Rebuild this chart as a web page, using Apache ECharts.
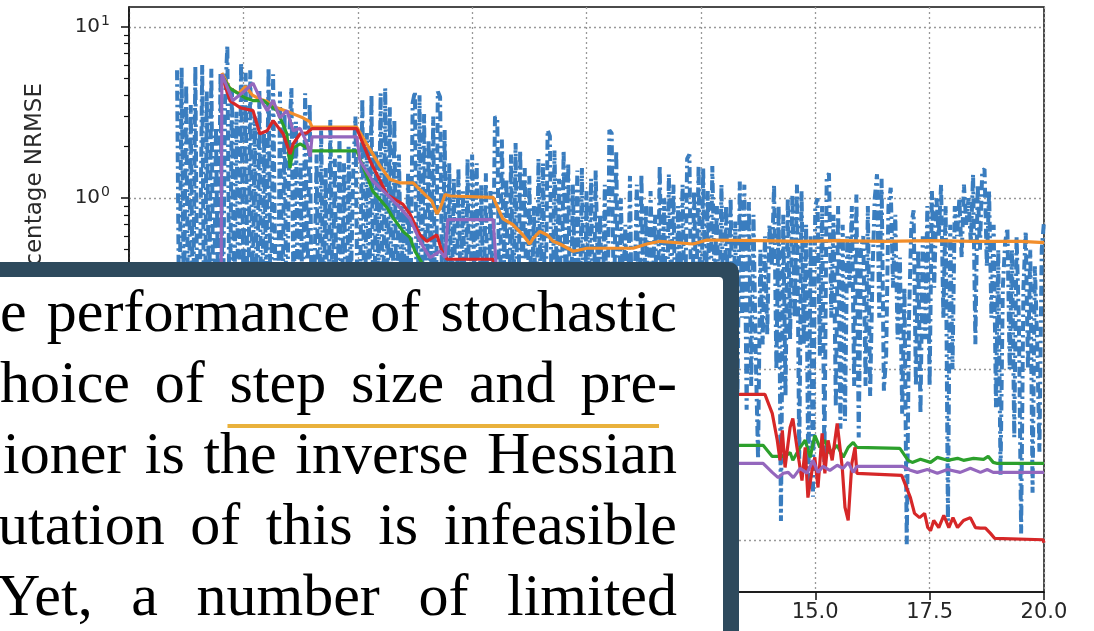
<!DOCTYPE html>
<html>
<head>
<meta charset="utf-8">
<script src="https://cdn.jsdelivr.net/npm/echarts@6/dist/echarts.min.js"></script>
<style>
html, body { margin: 0; padding: 0; background: #fff; }
#main { width: 1094px; height: 631px; }
</style>
</head>
<body>
<div id="main"></div>
<script>
// axis ticks
var xTicks = [0, 2.5, 5, 7.5, 10, 12.5, 15, 17.5, 20];
var yMajor = [0.01, 0.1, 1, 10];
var yMinor = [0.006, 0.007, 0.008, 0.009,
    0.02, 0.03, 0.04, 0.05, 0.06, 0.07, 0.08, 0.09,
    0.2, 0.3, 0.4, 0.5, 0.6, 0.7, 0.8, 0.9,
    2, 3, 4, 5, 6, 7, 8, 9];

// blue (dash-dot) series, one value every 0.05 starting at x = 1.05
var blueStart = 1.05, blueStep = 0.05;
var blueVals = [
    5.6, 0.12, 5.8, 0.2, 4.6, 0.09, 3.5, 0.15, 5.9, 0.1,
    0.3, 6.0, 0.08, 4.2, 0.18, 5.7, 0.1, 2.6, 0.25, 5.4,
    0.15, 3.8, 7.8, 0.12, 4.4, 0.2, 3.2, 0.09, 6.2, 0.3,
    5.4, 0.1, 5.6, 0.22, 3.0, 0.14, 4.3, 0.08, 2.4, 0.3,
    5.8, 0.12, 5.3, 0.3, 0.07, 4.2, 0.16, 3.1, 0.1, 2.2,
    4.4, 0.2, 2.8, 0.09, 1.6, 0.14, 4.1, 0.25, 3.6, 0.11,
    0.3, 1.8, 0.1, 2.6, 0.18, 1.5, 0.07, 2.9, 0.22, 1.7,
    0.12, 2.3, 0.2, 1.6, 0.09, 2.0, 0.3, 1.4, 3.0, 0.15,
    0.25, 3.8, 0.1, 2.4, 0.18, 4.0, 0.08, 1.9, 0.3, 4.1,
    0.12, 4.4, 0.2, 3.4, 0.09, 2.9, 0.16, 1.8, 0.3, 0.9,
    0.11, 1.4, 0.2, 3.6, 4.2, 0.08, 4.0, 0.25, 3.1, 0.14,
    2.2, 0.3, 3.0, 0.1, 4.2, 3.9, 0.18, 2.5, 0.09, 1.6,
    0.2, 1.3, 0.1, 1.5, 0.25, 1.1, 0.15, 1.7, 0.08, 1.8,
    0.3, 1.6, 0.12, 1.2, 0.2, 1.4, 0.09, 1.1, 0.25, 3.0,
    2.9, 0.15, 2.2, 0.4, 1.3, 0.1, 1.8, 0.22, 2.1, 0.12,
    1.9, 0.3, 1.5, 0.09, 1.35, 0.2, 0.9, 0.13, 1.7, 0.28,
    1.6, 0.14, 2.5, 2.3, 0.1, 1.9, 0.35, 1.3, 0.18, 1.9,
    0.22, 1.6, 0.1, 1.2, 0.3, 1.45, 0.15, 1.5, 0.08, 1.1,
    0.25, 1.3, 0.12, 1.45, 0.35, 0.8, 0.16, 1.2, 0.09, 2.5,
    2.4, 0.2, 1.9, 0.12, 1.0, 0.3, 0.7, 0.15, 1.35, 0.1,
    0.28, 1.2, 0.11, 1.38, 0.2, 0.9, 0.14, 1.1, 0.32, 0.8,
    0.13, 1.55, 0.22, 1.0, 0.09, 1.38, 0.27, 1.2, 0.12, 0.9,
    0.3, 1.2, 0.15, 1.7, 1.8, 0.1, 1.1, 0.25, 1.55, 0.12,
    1.5, 0.2, 1.1, 0.13, 1.54, 0.3, 0.9, 0.16, 1.2, 0.1,
    0.9, 0.2, 1.0, 0.12, 0.73, 0.07, 1.25, 0.2, 1.2, 0.058,
    0.95, 0.08, 0.8, 0.12, 0.03, 0.5, 0.14, 0.6, 0.16, 0.7,
    0.4, 1.2, 0.1, 0.9, 0.013, 0.8, 0.07, 1.0, 0.15, 1.05,
    0.2, 1.2, 0.03, 1.1, 0.14, 0.7, 0.02, 0.6, 0.018, 0.9,
    1.0, 0.12, 0.9, 0.028, 1.3, 1.4, 0.2, 0.8, 0.06, 0.9,
    0.045, 0.7, 0.05, 0.6, 0.3, 0.9, 0.08, 1.05, 0.04, 0.5,
    0.6, 0.08, 0.9, 0.07, 0.35, 1.0, 1.38, 0.2, 1.3, 0.075,
    0.12, 0.9, 1.15, 0.3, 0.8, 0.15, 0.45, 0.055, 0.3, 0.0095,
    0.2, 0.7, 0.85, 0.08, 0.5, 0.055, 0.6, 0.15, 0.9, 0.08,
    1.1, 0.3, 1.0, 0.6, 1.2, 0.2, 0.9, 0.013, 0.7, 0.1,
    0.9, 0.6, 1.0, 0.45, 1.2, 0.7, 1.0, 0.55, 1.38, 0.14,
    1.2, 0.5, 1.45, 1.48, 0.4, 1.1, 0.2, 0.7, 0.06, 0.5,
    0.024, 0.3, 0.55, 0.67, 0.1, 0.5, 0.04, 0.6, 0.2, 0.011,
    0.3, 0.64, 0.1, 0.5, 0.019, 0.4, 0.15, 0.033, 0.5, 0.73
];

var orange = [
    [2.03, 5.4], [2.2, 4.4], [2.4, 4.1], [2.55, 4.5], [2.7, 4.0], [2.85, 3.8], [3.0, 3.7],
    [3.2, 3.4], [3.4, 3.25], [3.6, 3.1], [3.8, 2.95], [3.95, 2.8], [4.0, 2.6], [4.98, 2.6],
    [5.26, 1.94], [5.49, 1.54], [5.70, 1.29], [5.92, 1.23], [6.21, 1.23], [6.47, 1.05],
    [6.62, 0.96], [6.73, 0.81], [6.80, 0.87], [6.91, 1.05], [7.02, 1.03], [7.96, 1.01],
    [8.17, 0.76], [8.39, 0.70], [8.61, 0.61], [8.76, 0.54], [8.83, 0.58], [8.98, 0.64],
    [9.14, 0.61], [9.27, 0.56], [9.42, 0.54], [9.71, 0.49], [10.01, 0.51], [11.02, 0.51],
    [11.32, 0.54], [11.61, 0.56], [12.33, 0.54], [12.63, 0.57], [13.79, 0.565], [14.67, 0.56],
    [15.5, 0.565], [16.5, 0.56], [17.5, 0.565], [18.5, 0.56], [19.5, 0.56], [20.0, 0.55]
];

var green = [
    [2.03, 5.2], [2.2, 4.4], [2.54, 3.85], [2.71, 3.72], [2.93, 3.72], [3.24, 3.25],
    [3.45, 2.38], [3.52, 1.5], [3.59, 1.97], [3.74, 2.08], [3.89, 1.97], [4.0, 1.89],
    [4.98, 1.89], [5.33, 1.1], [5.64, 0.88], [5.77, 0.77], [5.99, 0.64], [6.14, 0.59],
    [6.25, 0.49], [6.4, 0.42], [7.0, 0.2], [8.0, 0.08], [10.0, 0.045], [13.31, 0.036],
    [13.86, 0.036], [14.06, 0.031], [14.34, 0.031], [14.45, 0.0327], [14.51, 0.0294],
    [14.67, 0.035], [14.78, 0.0385], [14.89, 0.0306], [14.99, 0.0411], [15.10, 0.035],
    [15.21, 0.0385], [15.32, 0.0323], [15.48, 0.036], [15.61, 0.0306], [15.72, 0.035],
    [15.83, 0.0374], [15.91, 0.035], [16.85, 0.0345], [17.03, 0.0294], [17.12, 0.0286],
    [17.30, 0.0298], [17.52, 0.0286], [17.67, 0.0306], [17.89, 0.0294], [18.11, 0.0302],
    [18.24, 0.0294], [18.46, 0.0302], [18.68, 0.0298], [18.78, 0.031], [18.89, 0.0286],
    [18.98, 0.0282], [20.0, 0.0282]
];

var red = [
    [2.03, 5.2], [2.21, 3.7], [2.43, 3.38], [2.71, 3.25], [2.86, 2.38], [3.02, 2.48],
    [3.15, 2.84], [3.37, 2.38], [3.52, 1.81], [3.59, 2.08], [3.74, 2.38], [3.89, 2.41],
    [4.0, 2.55], [4.98, 2.55], [5.27, 1.65], [5.64, 1.05], [5.99, 0.92], [6.14, 0.81],
    [6.36, 0.61], [6.51, 0.56], [6.73, 0.61], [6.84, 0.49], [6.95, 0.44], [7.96, 0.44],
    [8.05, 0.25], [8.3, 0.1], [9.0, 0.075], [13.31, 0.0714], [13.9, 0.0714],
    [14.06, 0.0553], [14.17, 0.0385], [14.23, 0.0294], [14.28, 0.044], [14.34, 0.0267],
    [14.45, 0.0458], [14.51, 0.0517], [14.60, 0.035], [14.71, 0.0224], [14.78, 0.035],
    [14.84, 0.0178], [14.93, 0.0257], [14.99, 0.0306], [15.06, 0.0204], [15.15, 0.0423],
    [15.21, 0.0247], [15.28, 0.0385], [15.37, 0.0294], [15.48, 0.0483], [15.59, 0.0267],
    [15.65, 0.0156], [15.72, 0.0131], [15.80, 0.0282], [15.87, 0.035], [15.91, 0.0247],
    [16.89, 0.024], [17.08, 0.0178], [17.17, 0.0144], [17.28, 0.0136], [17.39, 0.0144],
    [17.46, 0.0119], [17.52, 0.0114], [17.59, 0.0131], [17.70, 0.0119], [17.81, 0.014],
    [17.92, 0.0119], [18.01, 0.0136], [18.11, 0.0119], [18.24, 0.0131], [18.39, 0.0136],
    [18.50, 0.0119], [18.61, 0.0118], [18.72, 0.0118], [18.83, 0.011], [18.92, 0.0103],
    [19.98, 0.0101], [20.0, 0.0097]
];

var purple = [
    [1.99, 0.004], [2.03, 5.3], [2.14, 4.5], [2.27, 3.72], [2.54, 4.26], [2.71, 4.7],
    [2.86, 3.85], [3.02, 3.25], [3.15, 3.72], [3.30, 2.95], [3.45, 3.25], [3.59, 2.48],
    [3.74, 2.56], [3.89, 2.1], [3.96, 1.75], [4.0, 2.28], [4.98, 2.28], [5.05, 1.65],
    [5.33, 1.26], [5.64, 1.05], [5.92, 0.88], [6.14, 0.76], [6.30, 0.61], [6.43, 0.52],
    [6.58, 0.45], [6.80, 0.49], [6.91, 0.45], [6.97, 0.75], [7.96, 0.75], [8.05, 0.32],
    [8.2, 0.09], [9.5, 0.045], [11.0, 0.032], [13.31, 0.0282], [13.86, 0.0282],
    [14.06, 0.025], [14.19, 0.0233], [14.30, 0.0247], [14.41, 0.025], [14.52, 0.0233],
    [14.67, 0.0264], [14.82, 0.0247], [14.95, 0.0294], [15.06, 0.025], [15.17, 0.0271],
    [15.32, 0.0257], [15.48, 0.0275], [15.61, 0.0264], [15.72, 0.0286], [15.83, 0.025],
    [15.91, 0.0271], [16.91, 0.0271], [17.08, 0.0257], [17.23, 0.025], [17.45, 0.026],
    [17.67, 0.0247], [17.89, 0.026], [18.17, 0.025], [18.39, 0.0264], [18.61, 0.025],
    [18.76, 0.026], [18.89, 0.025], [20.0, 0.025]
];

// text of the overlaid paragraph (left part is cut off in the picture)
var textLines = [
    ['e', 'performance', 'of', 'stochastic'],
    ['hoice', 'of', 'step', 'size', 'and', 'pre-'],
    ['ioner', 'is', 'the', 'inverse', 'Hessian'],
    ['utation', 'of', 'this', 'is', 'infeasible'],
    ['Yet,', 'a', 'number', 'of', 'limited']
];
var lineLeft = [0, 0, 3, -2, -3];
var lineBase = [335, 406, 477, 548, 619];

var bluePts = [];
for (var i = 0; i < blueVals.length; i++) {
    bluePts.push([+(blueStart + i * blueStep).toFixed(2), blueVals[i]]);
}

var textFont = '60px "Liberation Serif"';
var ctx = document.createElement('canvas').getContext('2d');
ctx.font = textFont;
var textRight = 677;
var graphics = [
    {
        type: 'text', x: 35, y: 83, rotation: Math.PI / 2, z: 5,
        style: { text: 'Percentage NRMSE', font: '23px "DejaVu Sans"', fill: '#2a2a2a', align: 'right', verticalAlign: 'middle' }
    },
    { type: 'rect', z: 100, shape: { x: -30, y: 262, width: 769, height: 420, r: 10 }, style: { fill: '#2e4a5d' } },
    { type: 'rect', z: 101, shape: { x: -30, y: 277, width: 753, height: 420, r: [0, 4, 0, 0] }, style: { fill: '#fff' } }
];
var stepX = 0, preEnd = 0;
textLines.forEach(function (words, li) {
    var widths = words.map(function (w) { return ctx.measureText(w).width; });
    var total = widths.reduce(function (a, b) { return a + b; }, 0);
    var gap = (textRight - lineLeft[li] - total) / (words.length - 1);
    var x = lineLeft[li];
    words.forEach(function (w, wi) {
        graphics.push({
            type: 'text', x: x, y: lineBase[li] - 20, z: 102,
            style: { text: w, font: textFont, fill: '#000', align: 'left', verticalAlign: 'middle' }
        });
        if (li === 1 && w === 'step') stepX = x;
        if (li === 1 && w === 'pre-') preEnd = x + ctx.measureText('pre').width;
        x += widths[wi] + gap;
    });
});
graphics.push({
    type: 'line', z: 102,
    shape: { x1: stepX - 2, y1: 426, x2: preEnd + 2, y2: 426 },
    style: { stroke: '#e9b13c', lineWidth: 4 }
});

var chart = echarts.init(document.getElementById('main'));
var lbl = { fontFamily: 'DejaVu Sans', color: '#262626' };
function colorLine(name, data, color) {
    return {
        name: name, type: 'line', data: data, showSymbol: false, symbol: 'none',
        clip: true, animation: false,
        lineStyle: { color: color, width: 3.2 }
    };
}
chart.setOption({
    animation: false,
    grid: {
        left: 129, top: 7, width: 915, height: 585,
        show: true, borderColor: '#111', borderWidth: 1.5, backgroundColor: '#fff',
        outerBoundsMode: 'none'
    },
    xAxis: {
        type: 'value', min: 0, max: 20, interval: 2.5,
        axisLine: { show: true, lineStyle: { color: '#111', width: 1.5 } },
        axisTick: { show: true, length: 8, lineStyle: { color: '#111', width: 1.5 } },
        axisLabel: Object.assign({ margin: 10, fontSize: 21, formatter: function (v) { return v.toFixed(1); } }, lbl),
        splitLine: { show: true, lineStyle: { color: '#999', type: [2, 3], width: 1.3 } }
    },
    yAxis: [{
        type: 'log', logBase: 10, min: 0.005, max: 13.1,
        axisLine: { show: true, lineStyle: { color: '#111', width: 1.5 } },
        axisTick: { show: true, length: 8, customValues: yMajor, lineStyle: { color: '#111', width: 1.5 } },
        axisLabel: Object.assign({
            margin: 19, fontSize: 20, customValues: yMajor,
            formatter: function (v) {
                var e = Math.round(Math.log10(v));
                return '10{sup|' + (e < 0 ? '\u2212' + (-e) : e) + '}';
            },
            rich: { sup: { fontFamily: 'DejaVu Sans', fontSize: 14, color: '#262626', padding: [0, 0, 12, 1] } }
        }, lbl),
        splitLine: { show: true, lineStyle: { color: '#999', type: [2, 3], width: 1.3 } }
    }, {
        type: 'log', logBase: 10, min: 0.005, max: 13.1, position: 'left',
        axisLine: { show: false },
        axisTick: { show: true, length: 5, customValues: yMinor, lineStyle: { color: '#111', width: 1.2 } },
        axisLabel: { show: false },
        splitLine: { show: false }
    }],
    series: [
        {
            name: 'blue', type: 'line', data: bluePts, showSymbol: false, symbol: 'none',
            clip: true, animation: false,
            lineStyle: { color: '#3a7dbf', width: 4, type: [10, 4, 2.5, 4] }
        },
        colorLine('orange', orange, '#f28e2b'),
        colorLine('green', green, '#2ca02c'),
        colorLine('red', red, '#d62728'),
        colorLine('purple', purple, '#9467bd')
    ],
    graphic: graphics
});
</script>
</body>
</html>
